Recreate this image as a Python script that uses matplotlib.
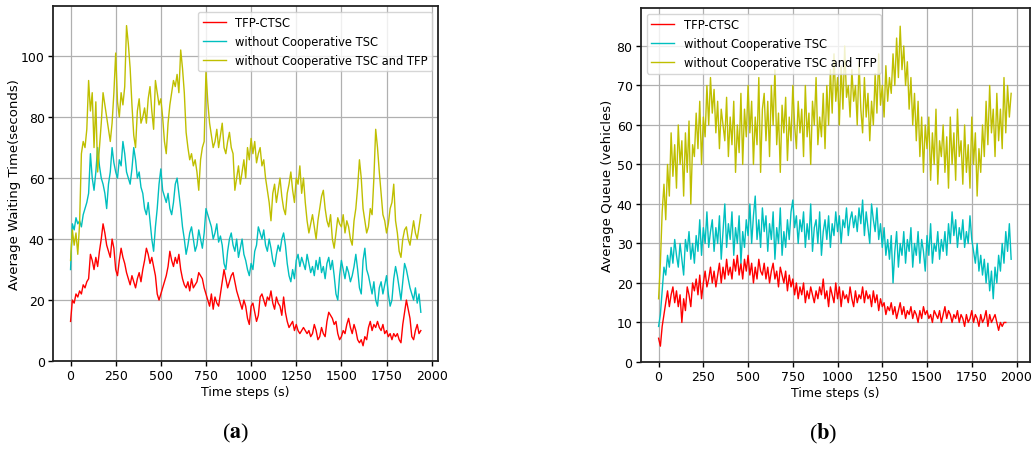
import numpy as np
import matplotlib
matplotlib.use("Agg")
import matplotlib.pyplot as plt

# --- data (one value every 10 time steps) ---
step = 10

wait_ctsc = [13, 20, 19, 22, 21, 23, 22, 25, 24, 26,
             27, 35, 33, 30, 34, 31, 36, 40, 45, 42,
             38, 36, 34, 40, 37, 30, 28, 33, 37, 34,
             32, 29, 27, 25, 28, 26, 24, 27, 29, 26,
             30, 33, 37, 35, 32, 34, 31, 28, 22, 20,
             22, 24, 26, 28, 31, 36, 33, 31, 34, 32,
             35, 30, 27, 25, 24, 26, 23, 27, 24, 25,
             26, 29, 28, 27, 24, 22, 20, 18, 22, 17,
             21, 19, 18, 22, 26, 30, 27, 24, 26, 28,
             29, 26, 23, 21, 19, 17, 20, 18, 14, 12,
             18, 19, 16, 13, 15, 21, 22, 20, 18, 21,
             20, 23, 19, 17, 21, 19, 18, 15, 21, 16,
             13, 11, 12, 13, 10, 12, 10, 9, 10, 11,
             10, 9, 10, 8, 9, 12, 10, 7, 8, 11,
             9, 8, 13, 16, 15, 14, 12, 13, 9, 7,
             8, 10, 9, 12, 14, 11, 9, 12, 10, 7,
             6, 7, 5, 8, 7, 11, 13, 10, 12, 11,
             13, 11, 10, 12, 9, 10, 8, 9, 7, 9,
             8, 9, 7, 6, 12, 16, 20, 17, 14, 8,
             7, 10, 12, 9, 10]

wait_no_coop = [30, 45, 43, 47, 45, 46, 44, 48, 50, 52,
                55, 68, 60, 56, 62, 70, 64, 60, 58, 55,
                50, 58, 62, 70, 65, 62, 60, 66, 64, 72,
                68, 62, 60, 58, 63, 70, 66, 60, 62, 57,
                55, 50, 48, 52, 46, 40, 36, 44, 50, 58,
                63, 56, 54, 52, 55, 50, 48, 52, 58, 60,
                55, 50, 44, 40, 35, 38, 42, 44, 40, 36,
                38, 43, 40, 37, 42, 50, 48, 46, 44, 40,
                42, 45, 39, 41, 38, 32, 30, 36, 40, 42,
                38, 36, 40, 34, 37, 40, 35, 33, 30, 28,
                32, 30, 36, 38, 44, 42, 40, 43, 38, 36,
                40, 37, 33, 31, 35, 38, 36, 40, 42, 38,
                32, 28, 26, 30, 27, 33, 35, 31, 34, 32,
                30, 35, 32, 29, 31, 28, 33, 30, 34, 29,
                31, 27, 32, 34, 30, 33, 28, 22, 20, 28,
                33, 30, 27, 31, 29, 26, 28, 31, 35, 30,
                24, 22, 33, 37, 30, 28, 25, 22, 26, 20,
                18, 24, 26, 22, 25, 28, 22, 18, 20, 27,
                31, 28, 24, 20, 26, 32, 30, 27, 24, 22,
                20, 24, 19, 22, 16]

wait_no_coop_tfp = [33, 43, 38, 42, 35, 45, 68, 72, 70, 76,
                    92, 82, 88, 70, 85, 62, 70, 78, 88, 84,
                    80, 76, 72, 78, 88, 101, 85, 80, 88, 84,
                    90, 110, 104, 96, 84, 74, 70, 82, 86, 78,
                    80, 83, 78, 86, 90, 82, 76, 92, 88, 84,
                    86, 80, 72, 68, 78, 84, 88, 92, 90, 94,
                    88, 102, 96, 88, 75, 70, 66, 68, 64, 66,
                    62, 56, 66, 70, 72, 95, 85, 78, 74, 70,
                    72, 76, 70, 74, 78, 70, 68, 72, 75, 70,
                    68, 56, 60, 64, 58, 62, 66, 60, 70, 66,
                    73, 68, 72, 65, 68, 70, 64, 66, 60, 56,
                    52, 46, 55, 58, 52, 56, 60, 54, 50, 48,
                    55, 58, 62, 56, 52, 60, 58, 64, 55, 60,
                    52, 46, 42, 45, 48, 44, 40, 46, 50, 54,
                    56, 50, 46, 44, 48, 40, 37, 42, 47, 45,
                    44, 48, 42, 46, 44, 40, 38, 46, 50, 57,
                    66, 60, 50, 46, 42, 44, 50, 48, 60, 76,
                    70, 62, 55, 48, 46, 42, 45, 50, 52, 58,
                    46, 42, 36, 34, 40, 43, 44, 40, 38, 42,
                    46, 42, 40, 44, 48]

queue_ctsc = [6, 4, 9, 12, 15, 18, 14, 17, 19, 15,
              18, 14, 17, 10, 16, 13, 19, 17, 14, 20,
              18, 21, 17, 22, 16, 20, 23, 19, 21, 24,
              20, 23, 19, 22, 25, 20, 24, 21, 26, 22,
              24, 21, 26, 23, 27, 22, 25, 21, 26, 23,
              27, 22, 25, 20, 24, 21, 26, 23, 22, 25,
              21, 24, 20, 23, 25, 21, 23, 19, 24, 22,
              20, 23, 18, 22, 19, 21, 17, 20, 16, 19,
              17, 20, 15, 18, 16, 19, 17, 15, 18, 16,
              19, 17, 21, 16, 18, 14, 19, 17, 15, 20,
              16, 19, 14, 18, 16, 17, 15, 19, 16, 14,
              18, 15, 17, 16, 19, 15, 18, 16, 17, 14,
              18, 15, 17, 13, 16, 14, 15, 12, 14, 13,
              15, 12, 14, 11, 13, 15, 12, 14, 11, 13,
              12, 14, 11, 13, 12, 10, 13, 11, 14, 12,
              13, 11, 12, 10, 13, 12, 11, 13, 10, 12,
              14, 11, 13, 12, 10, 12, 11, 13, 10, 12,
              11, 9, 12, 10, 11, 13, 10, 12, 11, 9,
              12, 10, 11, 13, 9, 12, 10, 11, 12, 10,
              8, 10, 9, 10, 10]

queue_no_coop = [9, 12, 18, 24, 22, 27, 24, 29, 25, 31,
                 27, 24, 30, 26, 22, 31, 28, 33, 26, 30,
                 25, 32, 28, 36, 27, 34, 30, 38, 29, 33,
                 36, 28, 34, 30, 37, 26, 33, 40, 29, 35,
                 31, 38, 27, 34, 30, 37, 25, 33, 29, 36,
                 32, 40, 30, 37, 42, 31, 36, 29, 39, 33,
                 37, 28, 35, 31, 38, 26, 34, 30, 39, 27,
                 33, 29, 36, 31, 38, 41, 34, 37, 30, 36,
                 33, 38, 29, 35, 31, 40, 28, 34, 36, 30,
                 38, 27, 33, 36, 31, 37, 29, 35, 32, 38,
                 33, 37, 30, 36, 34, 39, 32, 36, 38, 34,
                 37, 33, 39, 35, 41, 32, 38, 34, 30, 40,
                 36, 33, 39, 31, 35, 29, 34, 27, 31, 26,
                 32, 20, 28, 33, 24, 30, 27, 33, 25, 31,
                 28, 34, 24, 30, 27, 33, 25, 31, 28, 23,
                 32, 27, 35, 25, 30, 28, 33, 26, 31, 28,
                 33, 27, 35, 30, 38, 32, 36, 29, 34, 31,
                 36, 29, 33, 30, 37, 31, 28, 25, 30, 23,
                 27, 22, 26, 20, 25, 18, 23, 16, 24, 20,
                 27, 23, 30, 25, 33, 28, 35, 26]

queue_no_coop_tfp = [16, 25, 38, 45, 36, 50, 42, 58, 47, 55,
                     44, 60, 50, 56, 42, 58, 48, 61, 40, 55,
                     52, 63, 54, 66, 50, 62, 57, 70, 60, 72,
                     63, 69, 58, 66, 54, 64, 60, 56, 67, 52,
                     62, 55, 66, 48, 60, 53, 68, 50, 64, 57,
                     70, 58, 66, 50, 62, 55, 72, 48, 64, 68,
                     56, 66, 52, 70, 60, 74, 55, 63, 48, 65,
                     58, 67, 51, 62, 56, 70, 60, 54, 66, 58,
                     64, 52, 70, 57, 63, 50, 66, 60, 72, 55,
                     62, 57, 68, 54, 70, 60, 74, 63, 78, 66,
                     72, 60, 75, 64, 80, 67, 70, 62, 74, 66,
                     70, 60, 76, 64, 58, 72, 62, 68, 56, 66,
                     60, 73, 63, 78, 65, 70, 62, 75, 66, 72,
                     68, 78, 70, 82, 72, 85, 74, 80, 70, 76,
                     64, 72, 60, 68, 56, 66, 52, 62, 48, 60,
                     54, 62, 46, 58, 50, 64, 45, 56, 52, 60,
                     48, 57, 44, 62, 50, 58, 46, 64, 52, 56,
                     45, 60, 48, 55, 44, 62, 50, 58, 42, 54,
                     48, 60, 52, 66, 55, 70, 58, 64, 52, 68,
                     56, 64, 54, 72, 58, 70, 62, 68]

labels = ["TFP-CTSC", "without Cooperative TSC", "without Cooperative TSC and TFP"]
colors = ["r", "c", "y"]


def _t(series):
    return np.arange(len(series)) * step


def _style(ax):
    ax.grid(True, color="#b0b0b0", linewidth=0.9)
    for s in ax.spines.values():
        s.set_linewidth(1.3)
        s.set_color("#222222")
    ax.tick_params(labelsize=9, length=3.5, width=1, pad=2.5)
    ax.set_xticks([0, 250, 500, 750, 1000, 1250, 1500, 1750, 2000])


fig = plt.figure(figsize=(10.32, 4.52), dpi=100)

# (a) waiting time
ax1 = fig.add_axes([0.0514, 0.199, 0.373, 0.786])
for ys, c, lab in zip([wait_ctsc, wait_no_coop, wait_no_coop_tfp], colors, labels):
    ax1.plot(_t(ys), ys, color=c, linewidth=1.0, label=lab)
ax1.set_xlim(-97, 2035)
ax1.set_ylim(0, 116.5)
ax1.set_yticks([0, 20, 40, 60, 80, 100])
_style(ax1)
ax1.set_xlabel("Time steps (s)", fontsize=9, labelpad=2)
ax1.set_ylabel("Average Waiting Time(seconds)", fontsize=9.5, labelpad=0)
ax1.legend(loc="upper right", fontsize=8.3, framealpha=0.8, edgecolor="#cccccc")

# (b) queue length
ax2 = fig.add_axes([0.621, 0.197, 0.377, 0.783])
for ys, c, lab in zip([queue_ctsc, queue_no_coop, queue_no_coop_tfp], colors, labels):
    ax2.plot(_t(ys), ys, color=c, linewidth=1.0, label=lab)
ax2.set_xlim(-99, 2075)
ax2.set_ylim(0, 89.6)
ax2.set_yticks([0, 10, 20, 30, 40, 50, 60, 70, 80])
_style(ax2)
ax2.set_xlabel("Time steps (s)", fontsize=9, labelpad=2)
ax2.set_ylabel("Average Queue (vehicles)", fontsize=9.5, labelpad=2)
ax2.legend(loc="upper left", fontsize=8.3, framealpha=0.8, edgecolor="#cccccc")

plt.rcParams["mathtext.fontset"] = "stix"
fig.text(0.228, 0.04, r"($\mathbf{a}$)", fontsize=16, family="Liberation Serif",
         ha="center", va="center")
fig.text(0.798, 0.04, r"($\mathbf{b}$)", fontsize=16, family="Liberation Serif",
         ha="center", va="center")

fig.savefig("out.png", dpi=100)
